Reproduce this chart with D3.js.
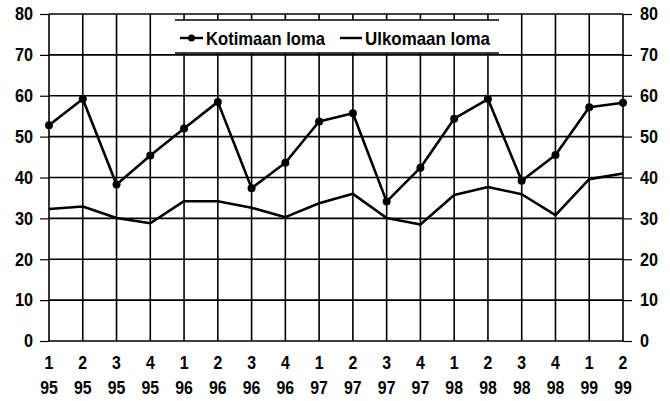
<!DOCTYPE html>
<html><head><meta charset="utf-8">
<script src="https://cdn.jsdelivr.net/npm/d3@7"></script>
<style>
html,body{margin:0;padding:0;background:#fff;}
svg text{font-family:"Liberation Sans","Arial",sans-serif;font-weight:bold;fill:#000;}
</style></head>
<body>
<svg id="c" width="670" height="401"></svg>
<script>
const quarters = ["1","2","3","4","1","2","3","4","1","2","3","4","1","2","3","4","1","2"];
const years = ["95","95","95","95","96","96","96","96","97","97","97","97","98","98","98","98","99","99"];
const kotimaan = [52.8,59.2,38.3,45.4,52.0,58.5,37.4,43.6,53.7,55.7,34.1,42.4,54.4,59.2,39.2,45.5,57.2,58.3];
const ulkomaan = [32.3,32.9,30.1,28.8,34.2,34.2,32.6,30.3,33.7,36.0,30.1,28.5,35.7,37.7,35.9,30.8,39.6,41.0];
const yTicks = [0,10,20,30,40,50,60,70,80];
const legendLabels = ["Kotimaan loma","Ulkomaan loma"];

const svg = d3.select("#c");
const L = 49, R = 623, T = 14, B = 341;
const x = d3.scalePoint().domain(d3.range(quarters.length)).range([L, R]);
const y = d3.scaleLinear().domain([0, 80]).range([B, T]);

function condense(sel, k) {
  sel.each(function() {
    const w = this.getComputedTextLength();
    d3.select(this).attr("textLength", w * k).attr("lengthAdjust", "spacingAndGlyphs");
  });
}

// grid
const g = svg.append("g").attr("stroke", "#000").attr("stroke-width", 1.6);
g.selectAll("line.h").data(yTicks).join("line")
  .attr("x1", L).attr("x2", R).attr("y1", d => y(d)).attr("y2", d => y(d));
g.selectAll("line.v").data(d3.range(quarters.length)).join("line")
  .attr("x1", d => x(d)).attr("x2", d => x(d)).attr("y1", T).attr("y2", B);

// left axis
const yl = d3.axisLeft(y).tickValues(yTicks).tickSize(9).tickPadding(7);
const gl = svg.append("g").attr("transform", `translate(${L},0)`).call(yl);
gl.select(".domain").remove();
gl.selectAll("line").attr("stroke-width", 1.2);
gl.selectAll("text").attr("font-size", 18).attr("font-family", null).attr("fill", "#000");
condense(gl.selectAll("text"), 0.9);

// right axis
const yr = d3.axisRight(y).tickValues(yTicks).tickSize(9).tickPadding(8);
const gr = svg.append("g").attr("transform", `translate(${R},0)`).call(yr);
gr.select(".domain").remove();
gr.selectAll("line").attr("stroke-width", 1.2);
gr.selectAll("text").attr("font-size", 18).attr("font-family", null).attr("fill", "#000");
condense(gr.selectAll("text"), 0.9);

// bottom labels
const xa = svg.append("g");
xa.selectAll("text.q").data(quarters).join("text")
  .attr("x", (d, i) => x(i)).attr("y", 363).attr("dy", "0.35em")
  .attr("text-anchor", "middle").attr("font-size", 18).text(d => d);
xa.selectAll("text.yr").data(years).join("text")
  .attr("x", (d, i) => x(i)).attr("y", 388).attr("dy", "0.35em")
  .attr("text-anchor", "middle").attr("font-size", 18).text(d => d);
condense(xa.selectAll("text"), 0.88);

// legend box
const lg = svg.append("g");
lg.append("rect").attr("x", 175).attr("y", 20).attr("width", 324).attr("height", 33).attr("fill", "#fff");
lg.append("line").attr("x1", 175).attr("x2", 499).attr("y1", 20).attr("y2", 20).attr("stroke", "#000").attr("stroke-width", 1.6);
lg.append("line").attr("x1", 175).attr("x2", 499).attr("y1", 53).attr("y2", 53).attr("stroke", "#000").attr("stroke-width", 1.6);

// lines
const line = d3.line().x((d, i) => x(i)).y(d => y(d));
svg.append("path").datum(ulkomaan).attr("d", line).attr("fill", "none")
  .attr("stroke", "#000").attr("stroke-width", 2.6).attr("stroke-linejoin", "round");
svg.append("path").datum(kotimaan).attr("d", line).attr("fill", "none")
  .attr("stroke", "#000").attr("stroke-width", 2.6).attr("stroke-linejoin", "round");
svg.append("g").selectAll("circle").data(kotimaan).join("circle")
  .attr("cx", (d, i) => x(i)).attr("cy", d => y(d)).attr("r", 4).attr("fill", "#000");

// legend entries
lg.append("line").attr("x1", 180).attr("x2", 203).attr("y1", 38).attr("y2", 38).attr("stroke", "#000").attr("stroke-width", 2.4);
lg.append("circle").attr("cx", 191.5).attr("cy", 38).attr("r", 3.5).attr("fill", "#000");
lg.append("text").attr("x", 206).attr("y", 38).attr("dy", "0.35em").attr("font-size", 19)
  .attr("textLength", 119).attr("lengthAdjust", "spacingAndGlyphs").text(legendLabels[0]);
lg.append("line").attr("x1", 340).attr("x2", 362).attr("y1", 38).attr("y2", 38).attr("stroke", "#000").attr("stroke-width", 2.4);
lg.append("text").attr("x", 365).attr("y", 38).attr("dy", "0.35em").attr("font-size", 19)
  .attr("textLength", 125).attr("lengthAdjust", "spacingAndGlyphs").text(legendLabels[1]);
</script>
</body></html>
